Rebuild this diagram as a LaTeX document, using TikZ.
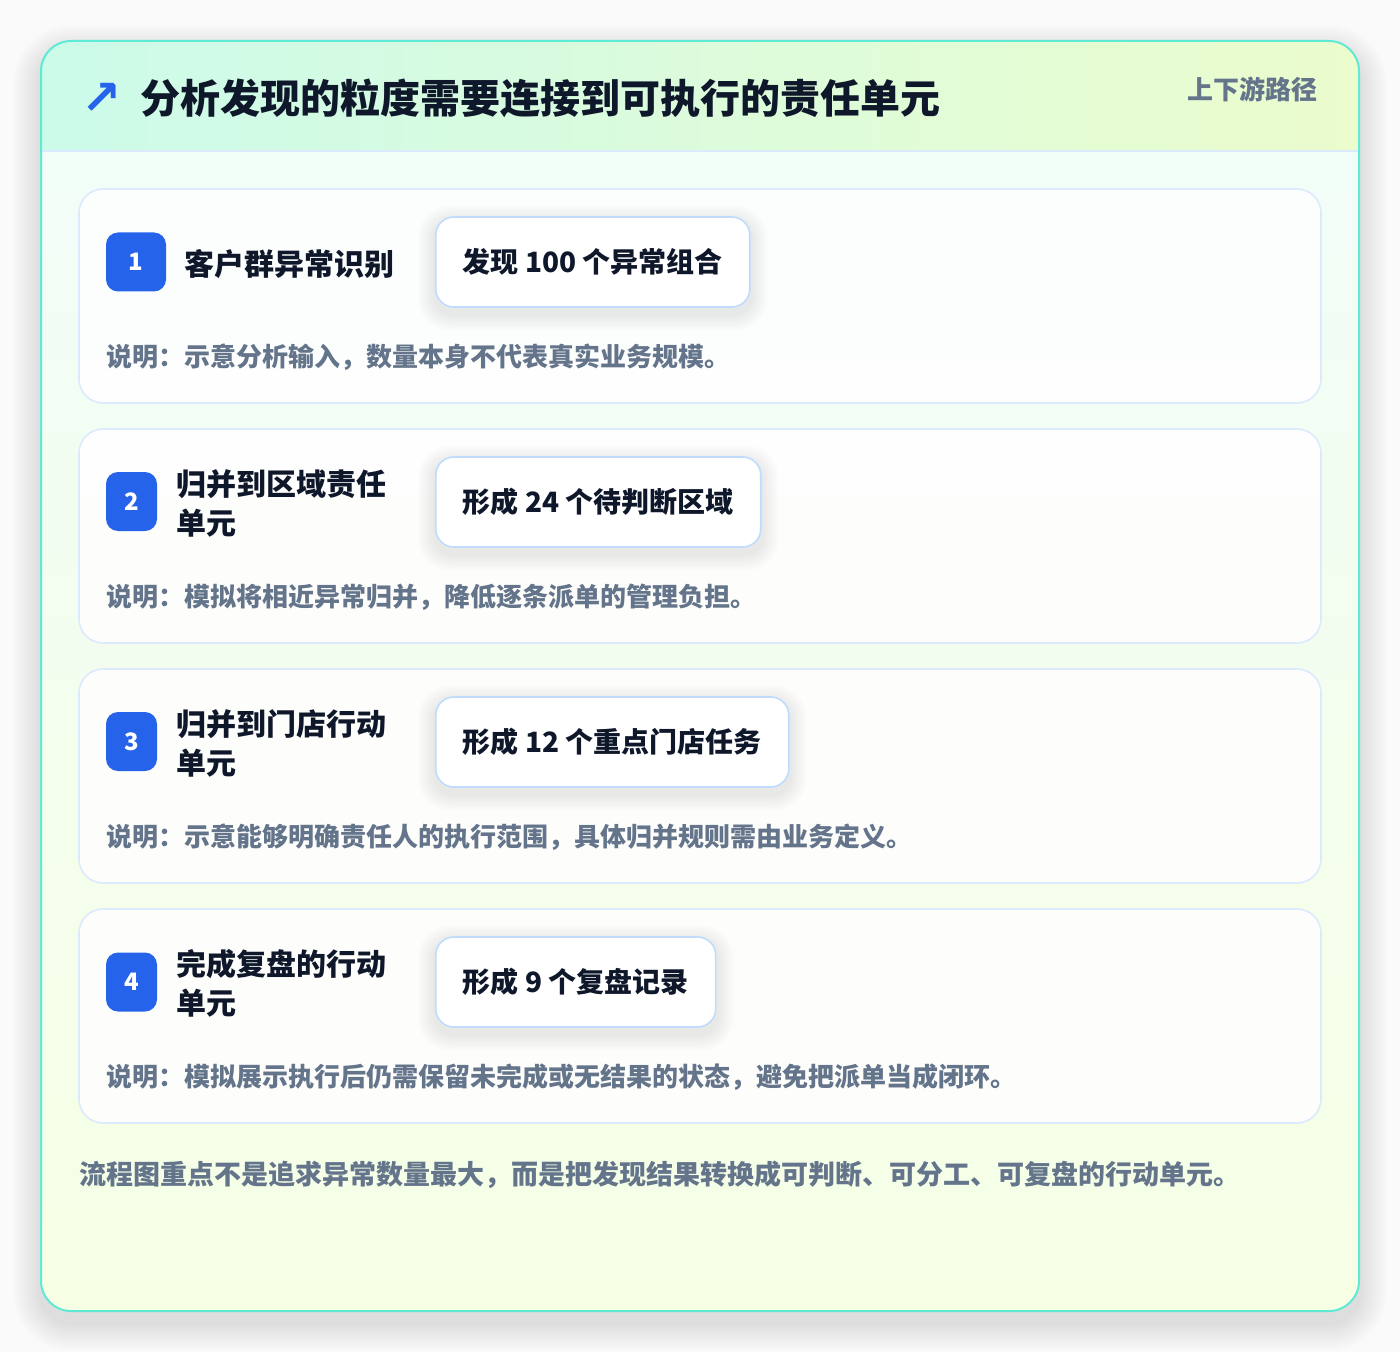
\documentclass[tikz,border=0pt]{standalone}
\usepackage{fontspec}
\setmainfont{Noto Sans CJK SC}
\newfontfamily\symfont{DejaVu Sans}
\usetikzlibrary{positioning}

\definecolor{pagebg}{HTML}{FAFAFA}
\definecolor{cardline}{HTML}{5EEAD4}
\definecolor{headmint}{HTML}{CCFBEA}
\definecolor{headlime}{HTML}{EBFCCD}
\definecolor{bodytop}{HTML}{F0FDF9}
\definecolor{bodybot}{HTML}{F6FEE4}
\definecolor{headrule}{HTML}{DBEAFE}
\definecolor{stepedge}{HTML}{DBEAFE}
\definecolor{resultedge}{HTML}{BFDBFE}
\definecolor{badgeblue}{HTML}{2563EB}
\definecolor{ink}{HTML}{0F172A}
\definecolor{muted}{HTML}{64748B}

\pgfdeclarelayer{back}
\pgfdeclarelayer{shade}
\pgfsetlayers{back,shade,main}

\tikzset{
  stepcard/.style={draw=stepedge, line width=0.8pt, fill=white, fill opacity=0.85,
    rounded corners=12pt, minimum width=621pt, minimum height=107pt, inner sep=0pt},
  badge/.style={fill=badgeblue, rounded corners=6pt, text=white,
    font=\bfseries\fontsize{12}{12}\selectfont, minimum height=29.5pt, inner sep=0pt},
  steptitle/.style={anchor=west, align=left, inner sep=0pt, text=ink,
    font=\bfseries\fontsize{15}{19.5}\selectfont},
  resultbox/.style={anchor=west, draw=resultedge, line width=0.8pt, fill=white,
    rounded corners=9pt, minimum height=45pt, inner xsep=13.5pt, text=ink,
    font=\bfseries\fontsize{14}{14}\selectfont},
  notetext/.style={anchor=west, inner sep=0pt, text=muted,
    font=\bfseries\fontsize{13}{13}\selectfont},
}

% soft shadow under a result box
\newcommand\softshade[1]{%
  \foreach \k in {1,...,7}{%
    \pgfmathsetmacro\rr{9+\k}%
    \fill[black, opacity=0.011, rounded corners=\rr pt]
      ([xshift=-\k*1.2pt, yshift=-\k*1.2pt-3pt]#1.south west) rectangle
      ([xshift=\k*1.2pt, yshift=\k*1.2pt-3pt]#1.north east);
  }}

\begin{document}
\begin{tikzpicture}[x=0.5pt,y=-0.5pt]
\useasboundingbox (0,0) rectangle (1400,1352);

\begin{pgfonlayer}{back}
\fill[pagebg] (0,0) rectangle (1400,1352);
% card shadow
\foreach \k in {1,...,14}{
  \pgfmathsetmacro\rr{15+\k}
  \fill[black, opacity=0.007, rounded corners=\rr pt]
    (41-2*\k, 53-2*\k) rectangle (1359+2*\k, 1323+2*\k);
}
\fill[top color=bodytop, bottom color=bodybot, rounded corners=15pt] (41,41) rectangle (1359,1311);
\begin{scope}
  \clip[rounded corners=15pt] (41,41) rectangle (1359,1311);
  \fill[left color=headmint, right color=headlime] (41,41) rectangle (1359,151);
\end{scope}
\draw[headrule, line width=0.7pt] (41,151) -- (1359,151);
\draw[cardline, line width=1pt, rounded corners=15pt] (41,41) rectangle (1359,1311);

% step cards
\node[stepcard] (card1) at (700,296) {};
\node[stepcard] (card2) at (700,536) {};
\node[stepcard] (card3) at (700,776) {};
\node[stepcard] (card4) at (700,1016) {};
\end{pgfonlayer}

% header
\node[inner sep=0pt, text=badgeblue, font=\symfont\bfseries\fontsize{24}{24}\selectfont] (icon) at (102,99) {↗};
\node[anchor=west, inner sep=0pt, text=ink, font=\bfseries\fontsize{20}{20}\selectfont] (title) at (140,98) {分析发现的粒度需要连接到可执行的责任单元};
\node[anchor=east, inner sep=0pt, text=muted, font=\bfseries\fontsize{13}{13}\selectfont] (tag) at (1318,89) {上下游路径};

% step 1
\node[badge, minimum width=30pt] (b1) at (136,262) {1};
\node[steptitle] (t1) at (184,264) {客户群异常识别};
\node[resultbox] (r1) at (435,262) {发现 100 个异常组合};
\node[notetext] (n1) at (106,357) {说明：示意分析输入，数量本身不代表真实业务规模。};

% step 2
\node[badge, minimum width=25.5pt] (b2) at (131.5,501.5) {2};
\node[steptitle] (t2) at (176,503.5) {归并到区域责任\\单元};
\node[resultbox] (r2) at (435,502) {形成 24 个待判断区域};
\node[notetext] (n2) at (106,597) {说明：模拟将相近异常归并，降低逐条派单的管理负担。};

% step 3
\node[badge, minimum width=25.5pt] (b3) at (131.5,741.5) {3};
\node[steptitle] (t3) at (176,743.5) {归并到门店行动\\单元};
\node[resultbox] (r3) at (435,742) {形成 12 个重点门店任务};
\node[notetext] (n3) at (106,837) {说明：示意能够明确责任人的执行范围，具体归并规则需由业务定义。};

% step 4
\node[badge, minimum width=25.5pt] (b4) at (131.5,982) {4};
\node[steptitle] (t4) at (176,983.5) {完成复盘的行动\\单元};
\node[resultbox] (r4) at (435,982) {形成 9 个复盘记录};
\node[notetext] (n4) at (106,1077) {说明：模拟展示执行后仍需保留未完成或无结果的状态，避免把派单当成闭环。};

% footer
\node[notetext, font=\bfseries\fontsize{13.5}{13.5}\selectfont] (foot) at (79,1175) {流程图重点不是追求异常数量最大，而是把发现结果转换成可判断、可分工、可复盘的行动单元。};

\begin{pgfonlayer}{shade}
\softshade{r1}
\softshade{r2}
\softshade{r3}
\softshade{r4}
\end{pgfonlayer}
\end{tikzpicture}
\end{document}
